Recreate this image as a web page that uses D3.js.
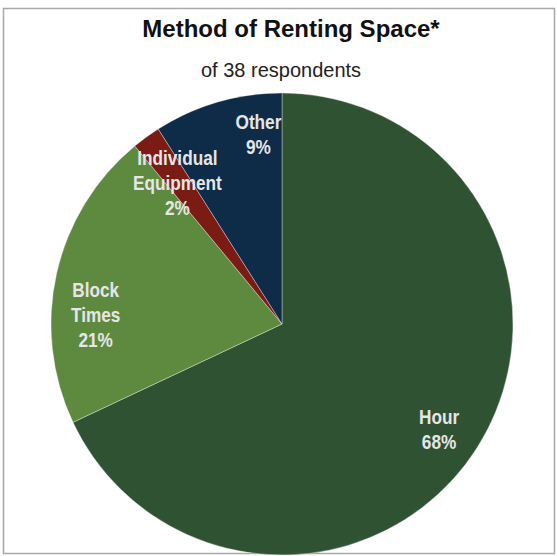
<!DOCTYPE html>
<html>
<head>
<meta charset="utf-8">
<script src="https://cdn.jsdelivr.net/npm/d3@7"></script>
<style>
  html, body { margin: 0; padding: 0; background: #ffffff; }
  svg { display: block; }
</style>
</head>
<body>
<svg id="chart" width="557" height="556"></svg>
<script>
// Survey answers: how members rent the space
const categories = ["Hour", "Block Times", "Individual Equipment", "Other"];
const shares = [68, 21, 2, 9];
const labelLines = [["Hour", "68%"], ["Block", "Times", "21%"], ["Individual", "Equipment", "2%"], ["Other", "9%"]];
const sliceColors = ["#2f5232", "#5e8a3f", "#7a1c14", "#0e2b47"];

const titleText = "Method of Renting Space*";
const subtitleText = "of 38 respondents";

// Small hand nudges for each slice label, applied after the centroid placement
const labelNudge = [[1, 6], [-6, 31], [4, 8], [28, -13]];

const W = 557, H = 556;
const cx = 282, cy = 324, R = 231;
const font = "'Liberation Sans', Arial, sans-serif";
// slice labels use a condensed bold face, emulated by squeezing horizontally
const narrowScale = 0.82;

const svg = d3.select("#chart");

// frame around the chart area
svg.append("rect")
  .attr("x", 3.5).attr("y", 8.5)
  .attr("width", 551).attr("height", 545)
  .attr("fill", "none")
  .attr("stroke", "#a8a8a8")
  .attr("stroke-width", 1.5);

svg.append("text")
  .attr("x", 291).attr("y", 37)
  .attr("text-anchor", "middle")
  .attr("font-family", font)
  .attr("font-weight", "bold")
  .attr("font-size", 24)
  .attr("fill", "#111")
  .text(titleText);

svg.append("text")
  .attr("x", 281).attr("y", 77)
  .attr("text-anchor", "middle")
  .attr("font-family", font)
  .attr("font-size", 20)
  .attr("fill", "#222")
  .text(subtitleText);

const data = categories.map((c, i) => ({ name: c, value: shares[i], lines: labelLines[i], color: sliceColors[i], nudge: labelNudge[i] }));

const pie = d3.pie().sort(null).value(d => d.value);
const arc = d3.arc().innerRadius(0).outerRadius(R);
const labelArc = d3.arc().innerRadius(R * 0.8).outerRadius(R * 0.8);

const g = svg.append("g").attr("transform", `translate(${cx},${cy})`);
const arcs = pie(data);

g.selectAll("path.slice")
  .data(arcs)
  .join("path")
  .attr("class", "slice")
  .attr("d", arc)
  .attr("fill", d => d.data.color)
  .attr("stroke", "rgba(255,255,255,0.35)")
  .attr("stroke-width", 1);

const fs = 21, lh = 25;
const labels = g.selectAll("text.lbl")
  .data(arcs)
  .join("text")
  .attr("class", "lbl")
  .attr("text-anchor", "middle")
  .attr("font-family", font)
  .attr("font-weight", "bold")
  .attr("font-size", fs)
  .attr("fill", "#e6e6e6")
  .attr("transform", d => {
    const [x, y] = labelArc.centroid(d);
    return `translate(${x + d.data.nudge[0]},${y + d.data.nudge[1]}) scale(${narrowScale},1)`;
  });

labels.each(function(d) {
  const n = d.data.lines.length;
  const y0 = -(n - 1) * lh / 2 + fs * 0.36;
  d3.select(this).selectAll("tspan")
    .data(d.data.lines)
    .join("tspan")
    .attr("x", 0)
    .attr("y", (t, i) => y0 + i * lh)
    .text(t => t);
});
</script>
</body>
</html>
